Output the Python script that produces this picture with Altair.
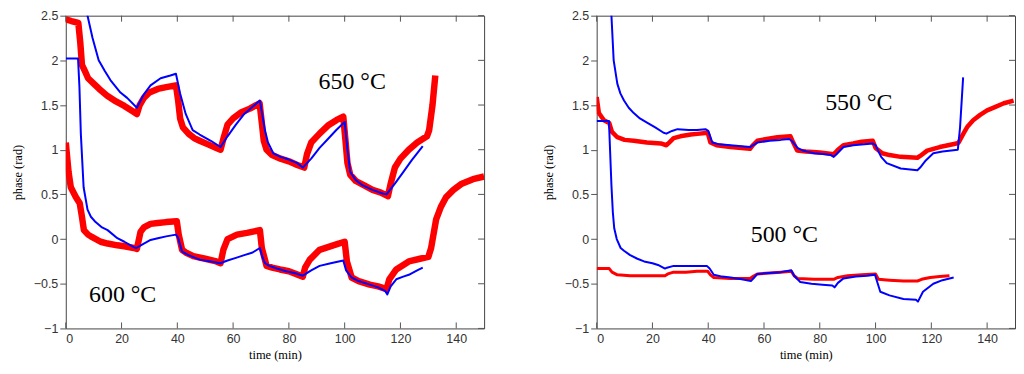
import altair as alt
import pandas as pd

# ---------------- data ----------------
# Left panel: 650 °C and 600 °C
t650_red = [0, 2, 4.5, 5.2, 5.8, 7, 8, 10, 12, 15, 18, 21, 24, 25.5, 26.5, 28, 30, 33, 36, 39.5, 40.3, 41, 42, 44, 46, 48, 51, 54, 55.5, 56.5, 58, 60, 63, 66, 69.5, 70.3, 71, 72, 74, 77, 80, 83, 85.5, 86.5, 88, 91, 94, 97, 99.5, 100.3, 101, 102, 104, 107, 110, 113, 115.5, 116.5, 118, 120, 123, 126, 129.5, 130.3, 131.5, 132.5]
v650_red = [2.46, 2.44, 2.42, 2.2, 1.95, 1.87, 1.8, 1.74, 1.68, 1.6, 1.54, 1.49, 1.43, 1.4, 1.5, 1.58, 1.64, 1.68, 1.7, 1.72, 1.55, 1.35, 1.25, 1.18, 1.13, 1.1, 1.06, 1.02, 1.0, 1.12, 1.28, 1.35, 1.42, 1.46, 1.52, 1.3, 1.1, 1.0, 0.94, 0.9, 0.87, 0.83, 0.8, 0.95, 1.08, 1.18, 1.27, 1.33, 1.37, 1.1, 0.85, 0.72, 0.65, 0.6, 0.55, 0.52, 0.48, 0.62, 0.8, 0.9, 1.0, 1.08, 1.15, 1.22, 1.5, 1.83]

t650_blue = [6.5, 7.8, 9.6, 11.8, 14, 16, 19.6, 22, 25.5, 28, 30.4, 34, 37.5, 39.5, 41, 43, 45.5, 48, 52, 55.5, 58, 61, 64, 67, 69.6, 71.4, 72.5, 74.4, 77, 80, 83, 85, 88, 91, 94, 97, 100, 101, 102, 104, 106.5, 110, 113.6, 115, 118, 121, 124, 128]
v650_blue = [3.0, 2.5, 2.25, 2.0, 1.88, 1.78, 1.64, 1.58, 1.47, 1.62, 1.72, 1.8, 1.83, 1.85, 1.63, 1.4, 1.22, 1.17, 1.1, 1.03, 1.15, 1.28, 1.4, 1.48, 1.55, 1.22, 1.08, 0.96, 0.92, 0.89, 0.85, 0.8, 0.9, 1.02, 1.12, 1.22, 1.31, 1.0, 0.75, 0.66, 0.6, 0.55, 0.51, 0.5, 0.62, 0.75, 0.88, 1.04]

t600_red = [0, 1, 1.8, 3.6, 5, 5.8, 6.5, 8, 9, 12.5, 15, 18.5, 21, 24.4, 25.5, 26.8, 28, 30.4, 33, 36, 39.8, 40.5, 41.7, 43, 45.7, 50, 54, 55.5, 56.5, 58, 61.4, 65, 69.6, 70.3, 72, 74, 76.8, 80, 85, 85.8, 87.5, 91, 94, 97, 100, 100.8, 102.5, 105, 109, 112, 115, 116, 118.5, 123, 127, 130, 131, 132.8, 134.5, 136.4, 139, 142, 146, 150]
v600_red = [1.08, 0.75, 0.58, 0.47, 0.4, 0.25, 0.1, 0.05, 0.03, -0.03, -0.05, -0.07, -0.08, -0.1, -0.11, 0.08, 0.13, 0.17, 0.18, 0.19, 0.2, 0.05, -0.12, -0.15, -0.19, -0.22, -0.25, -0.27, -0.12, 0.0, 0.05, 0.07, 0.1, -0.1, -0.3, -0.32, -0.34, -0.36, -0.42, -0.32, -0.23, -0.12, -0.09, -0.06, -0.03, -0.25, -0.43, -0.47, -0.51, -0.53, -0.56, -0.45, -0.34, -0.25, -0.22, -0.2, -0.1, 0.22, 0.36, 0.47, 0.55, 0.62, 0.67, 0.7]

t600_blue = [0, 4.4, 4.9, 5.4, 6.4, 7.8, 9, 10.7, 13, 15, 18.5, 21, 24.4, 25.3, 28, 30.4, 33, 36, 39.5, 40.2, 41.7, 44, 48, 52, 55.4, 58, 61, 64, 67, 69.6, 70.5, 71.4, 73, 75.7, 79, 82, 85, 88, 91, 95, 99.5, 100.5, 102.5, 105, 109, 112, 114.5, 115.3, 116.5, 118.5, 121, 123, 126, 128]
v600_blue = [2.02, 2.02, 1.7, 1.18, 0.58, 0.33, 0.25, 0.19, 0.13, 0.1, 0.01, -0.03, -0.09, -0.1, -0.05, -0.01, 0.01, 0.03, 0.05, 0.02, -0.14, -0.18, -0.23, -0.25, -0.27, -0.24, -0.21, -0.18, -0.15, -0.1, -0.2, -0.27, -0.3, -0.33, -0.36, -0.38, -0.41, -0.35, -0.3, -0.27, -0.24, -0.35, -0.43, -0.47, -0.51, -0.54, -0.58, -0.62, -0.53, -0.45, -0.42, -0.4, -0.35, -0.32]

# Right panel: 550 °C and 500 °C
t550_red = [0, 0.8, 2.6, 4.5, 5.5, 7.4, 10, 13.3, 18, 23, 25, 26, 27.6, 30, 33.7, 37, 39.8, 40.8, 43, 48, 52, 55, 56, 57.6, 61, 64.8, 69.5, 70.5, 71.9, 75, 80, 85, 86.5, 88.5, 92, 95, 99, 100, 102.4, 105, 109, 115, 116, 118.5, 123, 129, 129.8, 131.5, 133, 135, 137.5, 140, 143, 146, 149.5]
v550_red = [1.59, 1.41, 1.33, 1.3, 1.2, 1.14, 1.11, 1.1, 1.08, 1.07, 1.05, 1.08, 1.13, 1.15, 1.17, 1.18, 1.19, 1.08, 1.05, 1.03, 1.02, 1.01, 1.05, 1.1, 1.12, 1.14, 1.15, 1.08, 0.99, 0.98, 0.97, 0.95, 1.0, 1.05, 1.07, 1.09, 1.1, 1.02, 0.96, 0.94, 0.92, 0.91, 0.93, 0.99, 1.03, 1.07, 1.08, 1.18, 1.26, 1.33, 1.39, 1.44, 1.48, 1.52, 1.55]

t550_blue = [4.8, 5.3, 6.1, 7.4, 8.5, 9.8, 11.5, 13.3, 15.5, 18.2, 21, 24, 25, 27, 29, 33, 36, 39, 40, 41.5, 44, 48, 52, 55, 57.6, 62, 66, 69, 70, 72, 74, 78, 82, 84, 85, 86, 88.5, 92, 96, 99, 100, 102, 104, 109, 115, 116, 118, 120.7, 124, 129.5, 130.3, 131.4]
v550_blue = [3.0, 2.5, 2.0, 1.74, 1.63, 1.55, 1.47, 1.41, 1.35, 1.3, 1.25, 1.19, 1.18, 1.21, 1.23, 1.22, 1.22, 1.23, 1.21, 1.08, 1.06, 1.05, 1.04, 1.03, 1.08, 1.1, 1.11, 1.12, 1.1, 1.02, 0.99, 0.96, 0.95, 0.94, 0.92, 0.95, 1.03, 1.05, 1.06, 1.07, 1.05, 0.92, 0.85, 0.79, 0.77, 0.8, 0.88, 0.96, 0.98, 1.0, 1.25, 1.81]

t500_red = [0, 4.5, 5.5, 7.4, 12, 18, 24.5, 25.5, 27.6, 32, 36, 39.8, 40.8, 42, 48, 55, 56, 57.6, 62, 66, 69.8, 70.8, 72, 78, 85, 86.5, 90, 95, 100, 101, 105, 110, 115, 116.5, 119.6, 123, 126.5]
v500_red = [-0.33, -0.33, -0.37, -0.4, -0.41, -0.41, -0.41, -0.39, -0.37, -0.37, -0.36, -0.36, -0.4, -0.43, -0.44, -0.44, -0.42, -0.39, -0.38, -0.37, -0.36, -0.41, -0.44, -0.45, -0.45, -0.43, -0.41, -0.4, -0.39, -0.45, -0.46, -0.47, -0.47, -0.45, -0.43, -0.42, -0.41]

t500_blue = [0, 4.4, 4.8, 5.3, 5.8, 6.3, 7.2, 8.6, 9.8, 12, 14.6, 17, 20, 22, 24.5, 25.2, 27.6, 32, 36, 39.5, 40.5, 42, 45, 48, 52, 55.3, 56.5, 57.6, 62, 66, 69.8, 70.8, 73, 77, 81, 84.5, 85.3, 86.5, 88.5, 93, 97, 99.8, 100.6, 101.7, 105, 110, 114.5, 115.2, 117, 120.7, 124, 128]
v500_blue = [1.32, 1.32, 1.0, 0.6, 0.3, 0.12, 0.0, -0.1, -0.13, -0.18, -0.22, -0.25, -0.27, -0.29, -0.33, -0.32, -0.3, -0.3, -0.3, -0.3, -0.33, -0.4, -0.42, -0.43, -0.45, -0.47, -0.43, -0.39, -0.38, -0.37, -0.35, -0.41, -0.48, -0.5, -0.51, -0.52, -0.54, -0.49, -0.44, -0.42, -0.41, -0.4, -0.48, -0.59, -0.63, -0.67, -0.68, -0.7, -0.59, -0.5, -0.46, -0.43]

x_ticks = [0, 20, 40, 60, 80, 100, 120, 140]
y_ticks = [-1, -0.5, 0, 0.5, 1, 1.5, 2, 2.5]

left_labels = ["650 °C", "600 °C"]
left_label_t = [102.7, 20.4]
left_label_v = [1.675, -0.70]
right_labels = ["550 °C", "500 °C"]
right_label_t = [94, 67.3]
right_label_v = [1.44, -0.03]

# ---------------- chart ----------------
W, H = 420, 314
RED, BLUE = "#ff0000", "#0000ff"
xscale = alt.Scale(domain=[0, 150], nice=False, zero=False)
yscale = alt.Scale(domain=[-1, 2.5], nice=False, zero=False)
xaxis = alt.Axis(title="time (min)", values=x_ticks, tickSize=0, labelPadding=4,
                 titlePadding=4, format="d")
yaxis = alt.Axis(title="phase (rad)", values=y_ticks, tickSize=6, labelPadding=2,
                 titlePadding=9, format="~g")


def line(t, v, color, width):
    df = pd.DataFrame({"t": t, "v": v})
    return alt.Chart(df).mark_line(color=color, strokeWidth=width, clip=True,
                                   strokeJoin="round").encode(
        x=alt.X("t:Q", scale=xscale, axis=xaxis),
        y=alt.Y("v:Q", scale=yscale, axis=yaxis),
    )


def tick_layers():
    dx = pd.DataFrame({"t": x_ticks})
    dy = pd.DataFrame({"v": y_ticks})
    top = alt.Chart(dx).mark_rule(color="#555", strokeWidth=1).encode(
        x=alt.X("t:Q", scale=xscale, axis=xaxis), y=alt.value(0), y2=alt.value(6))
    bottom = alt.Chart(dx).mark_rule(color="#555", strokeWidth=1).encode(
        x=alt.X("t:Q", scale=xscale, axis=xaxis), y=alt.value(H), y2=alt.value(H - 6))
    right = alt.Chart(dy).mark_rule(color="#555", strokeWidth=1).encode(
        y=alt.Y("v:Q", scale=yscale, axis=yaxis), x=alt.value(W), x2=alt.value(W - 6))
    return [top, bottom, right]


def labels(txt, t, v):
    df = pd.DataFrame({"t": t, "v": v, "label": txt})
    return alt.Chart(df).mark_text(font="Liberation Serif", fontSize=24, color="black",
                                   align="center", baseline="alphabetic").encode(
        x=alt.X("t:Q", scale=xscale, axis=xaxis),
        y=alt.Y("v:Q", scale=yscale, axis=yaxis),
        text="label:N",
    )


left = alt.layer(
    line(t650_red, v650_red, RED, 6.5),
    line(t600_red, v600_red, RED, 6.5),
    line(t650_blue, v650_blue, BLUE, 2),
    line(t600_blue, v600_blue, BLUE, 2),
    labels(left_labels, left_label_t, left_label_v),
    *tick_layers(),
).properties(width=W, height=H)

right = alt.layer(
    line(t550_red, v550_red, RED, 4.5),
    line(t500_red, v500_red, RED, 3),
    line(t550_blue, v550_blue, BLUE, 2),
    line(t500_blue, v500_blue, BLUE, 2),
    labels(right_labels, right_label_t, right_label_v),
    *tick_layers(),
).properties(width=W, height=H)

chart = alt.hconcat(left, right, spacing=56).properties(
    padding={"left": 2, "top": 0, "right": 0, "bottom": 0}
).configure_view(stroke="#444", strokeWidth=1).configure_axis(
    grid=False, domain=False, tickColor="#555",
    labelFont="Liberation Sans", labelFontSize=12.5, labelColor="#333",
    titleFont="Liberation Serif", titleFontSize=12.5, titleFontWeight="normal",
    titleColor="black",
)

chart.save("out.html", embed_options={"renderer": "svg", "actions": False})
